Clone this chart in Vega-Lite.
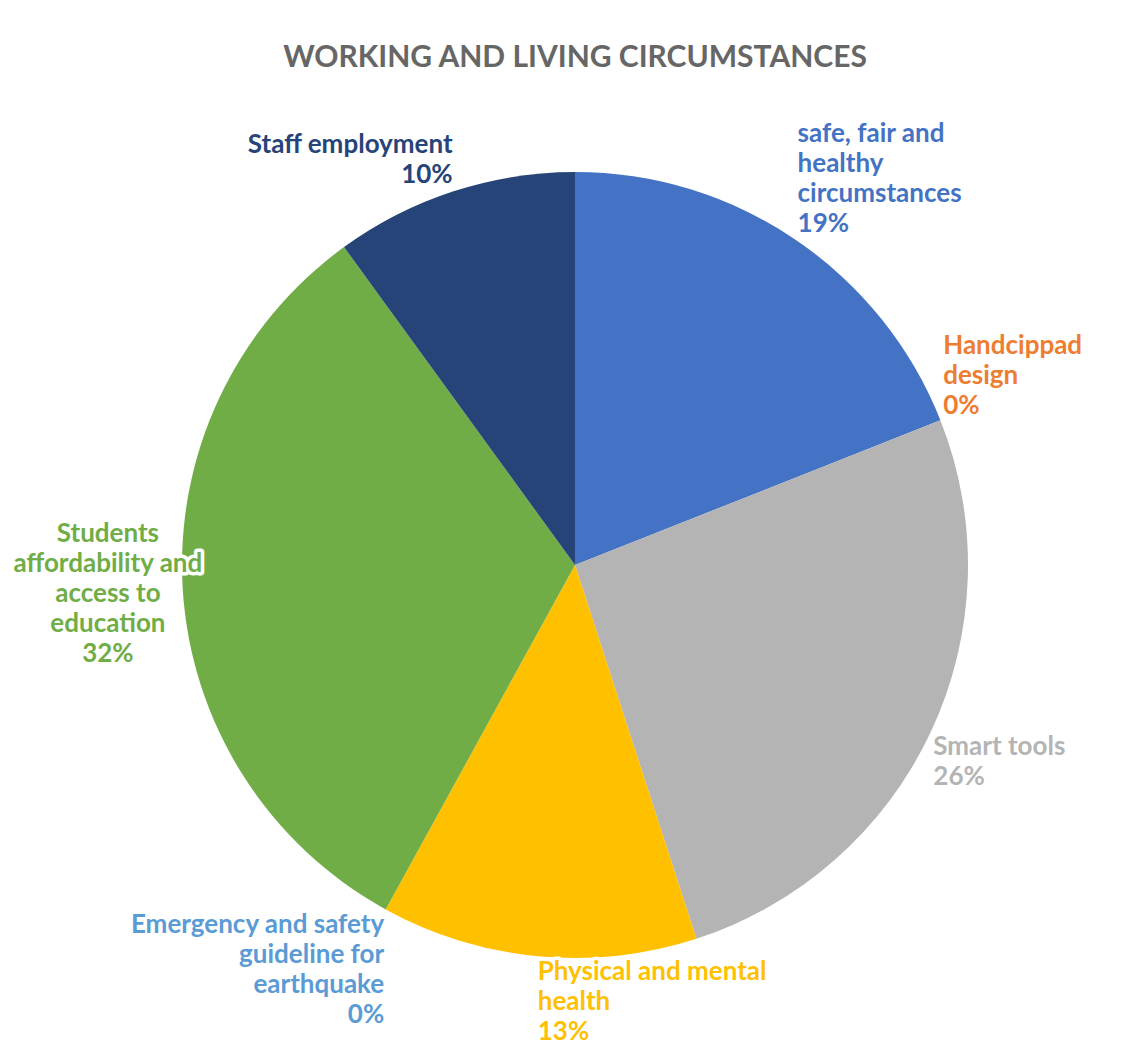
{
  "$schema": "https://vega.github.io/schema/vega-lite/v6.json",
  "autosize": {"type": "none"},
  "width": 1112,
  "height": 962,
  "padding": {"left": 19, "top": 84, "right": 0, "bottom": 0},
  "background": "white",
  "title": {
    "text": "WORKING AND LIVING CIRCUMSTANCES",
    "font": "Lato",
    "fontSize": 30,
    "fontWeight": "bold",
    "color": "#666666",
    "anchor": "middle",
    "offset": 11
  },
  "data": {
    "values": [
      {"order": 1, "category": "safe, fair and healthy circumstances", "value": 19, "label": ["safe, fair and", "healthy", "circumstances", "19%"]},
      {"order": 2, "category": "Handcippad design", "value": 0, "label": ["Handcippad", "design", "0%"]},
      {"order": 3, "category": "Smart tools", "value": 26, "label": ["Smart tools", "26%"]},
      {"order": 4, "category": "Physical and mental health", "value": 13, "label": ["Physical and mental", "health", "13%"]},
      {"order": 5, "category": "Emergency and safety guideline for earthquake", "value": 0, "label": ["Emergency and safety", "guideline for", "earthquake", "0%"]},
      {"order": 6, "category": "Students affordability and access to education", "value": 32, "label": ["Students", "affordability and", "access to", "education", "32%"]},
      {"order": 7, "category": "Staff employment", "value": 10, "label": ["Staff employment", "10%"]}
    ]
  },
  "encoding": {
    "theta": {"field": "value", "type": "quantitative", "stack": true},
    "order": {"field": "order", "type": "quantitative", "sort": "ascending"}
  },
  "layer": [
    {
      "mark": {"type": "arc", "outerRadius": 393},
      "encoding": {
        "color": {
          "field": "category",
          "type": "nominal",
          "legend": null,
          "scale": {
            "domain": ["safe, fair and healthy circumstances", "Handcippad design", "Smart tools", "Physical and mental health", "Emergency and safety guideline for earthquake", "Students affordability and access to education", "Staff employment"],
            "range": ["#4472C4", "#ED7D31", "#B4B4B4", "#FFC000", "#5B9BD5", "#70AD47", "#264478"]
          }
        }
      }
    },
    {
      "mark": {
        "type": "text",
        "font": "Lato",
        "fontSize": 26,
        "fontWeight": "bold",
        "lineHeight": 30,
        "fill": "white",
        "stroke": "white",
        "strokeWidth": 7,
        "strokeJoin": "round",
        "align": {"expr": "(datum.value_start + datum.value_end) / 2 < 55 ? 'left' : ((datum.value_start + datum.value_end) / 2 >= 65 && (datum.value_start + datum.value_end) / 2 < 85 ? 'center' : 'right')"},
        "baseline": {"expr": "((datum.value_start + datum.value_end) / 2 < 25 || (datum.value_start + datum.value_end) / 2 >= 85) ? 'bottom' : ((datum.value_start + datum.value_end) / 2 >= 65 ? 'middle' : 'top')"},
        "dy": {"expr": "((datum.value_start + datum.value_end) / 2 < 25 || (datum.value_start + datum.value_end) / 2 >= 85) ? -(length(datum.label) - 1) * 30 : ((datum.value_start + datum.value_end) / 2 >= 65 ? -(length(datum.label) - 1) * 15 : 0)"},
        "radius": {"expr": "((datum.value_start + datum.value_end) / 2 >= 65 && (datum.value_start + datum.value_end) / 2 < 85) ? 468 : 396"}
      },
      "encoding": {
        "text": {"field": "label", "type": "nominal"}
      }
    },
    {
      "mark": {
        "type": "text",
        "font": "Lato",
        "fontSize": 26,
        "fontWeight": "bold",
        "lineHeight": 30,
        "align": {"expr": "(datum.value_start + datum.value_end) / 2 < 55 ? 'left' : ((datum.value_start + datum.value_end) / 2 >= 65 && (datum.value_start + datum.value_end) / 2 < 85 ? 'center' : 'right')"},
        "baseline": {"expr": "((datum.value_start + datum.value_end) / 2 < 25 || (datum.value_start + datum.value_end) / 2 >= 85) ? 'bottom' : ((datum.value_start + datum.value_end) / 2 >= 65 ? 'middle' : 'top')"},
        "dy": {"expr": "((datum.value_start + datum.value_end) / 2 < 25 || (datum.value_start + datum.value_end) / 2 >= 85) ? -(length(datum.label) - 1) * 30 : ((datum.value_start + datum.value_end) / 2 >= 65 ? -(length(datum.label) - 1) * 15 : 0)"},
        "radius": {"expr": "((datum.value_start + datum.value_end) / 2 >= 65 && (datum.value_start + datum.value_end) / 2 < 85) ? 468 : 396"}
      },
      "encoding": {
        "text": {"field": "label", "type": "nominal"},
        "color": {"field": "category", "type": "nominal", "legend": null}
      }
    }
  ],
  "config": {
    "view": {"stroke": null}
  }
}
